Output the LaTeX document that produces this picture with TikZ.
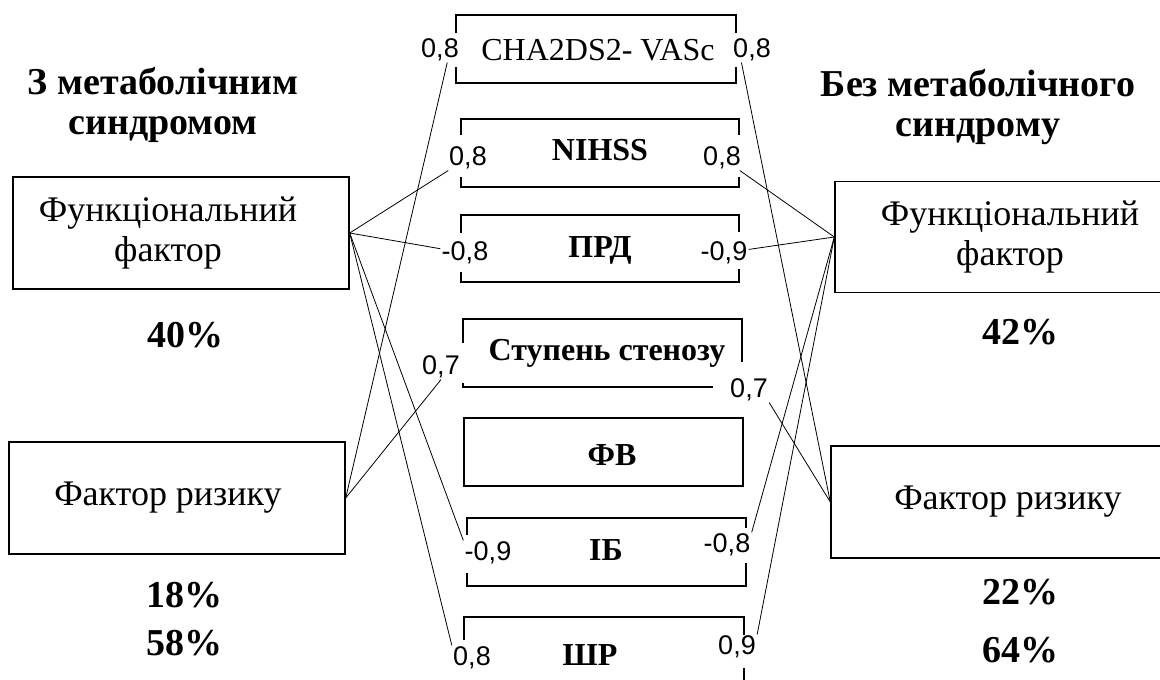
\documentclass[tikz,border=0pt]{standalone}
\usepackage{fontspec}
\setmainfont{Liberation Serif}
\newfontfamily\numfont{Liberation Sans}

\tikzset{
  factor/.style={draw,line width=1.4pt,minimum width=336pt,minimum height=112pt,align=center,font=\fontsize{36}{40}\selectfont},
  head/.style={align=center,font=\bfseries\fontsize{38}{40}\selectfont},
  share/.style={font=\bfseries\fontsize{38}{38}\selectfont},
  param/.style={font=\fontsize{32}{32}\selectfont},
  bparam/.style={font=\bfseries\fontsize{32}{32}\selectfont},
  coef/.style={inner sep=1pt,font=\numfont\fontsize{27}{27}\selectfont}
}

\begin{document}
\begin{tikzpicture}[x=1pt,y=-1pt,line width=0.8pt]
\useasboundingbox[fill=white] (0,0) rectangle (1160,680);

% groups
\node[head] (lhead) at (163,105) {З метаболічним\\синдромом};
\node[head] (rhead) at (978,107) {Без метаболічного\\синдрому};

\node[factor] (lfun) at (181,233) {Функціональний\hspace*{26pt}\\фактор\hspace*{26pt}};
\node[factor] (lrisk) at (177,498) {Фактор ризику\hspace*{18pt}};
\node[factor,minimum width=350pt,minimum height=111pt] (rfun) at (1010,237) {Функціональний\\фактор};
\node[factor,minimum width=354pt] (rrisk) at (1008,502) {Фактор ризику};

\node[share] (lfunpct) at (185,335) {40\%};
\node[share] (lriskpct) at (184,595) {18\%};
\node[share] (ltotal) at (184,643) {58\%};
\node[share] (rfunpct) at (1020,332) {42\%};
\node[share] (rriskpct) at (1020,592) {22\%};
\node[share] (rtotal) at (1020,650) {64\%};

% parameters
\node[param] (cha) at (598,50) {CHA2DS2- VASc};
\node[bparam] (nihss) at (600,150) {NIHSS};
\node[bparam] (prd) at (600,250) {ПРД};
\node[bparam] (sten) at (607,353) {Ступень стенозу};
\node[bparam] (fv) at (612,455) {ФВ};
\node[bparam] (ib) at (606,550) {ІБ};
\node[bparam] (shr) at (590,655) {ШР};

\begin{scope}[line width=1.4pt]
\draw (456,33) |- (736,15) -- (736,33);
\draw (456,67) |- (736,83) -- (736,67);
\draw (461,135) |- (739,119) -- (739,135);
\draw (461,177) |- (739,187) -- (739,177);
\draw (461,233) |- (739,215) -- (739,232);
\draw (461,272) |- (739,282) -- (739,269);
\draw (463,343) |- (742,319) -- (742,362);
\draw (463,383) |- (713,387);
\draw (464,418) rectangle (743,486);
\draw (467,535) |- (746,518) -- (746,528);
\draw (467,573) |- (746,586) -- (746,563);
\draw (464,640) |- (744,617) -- (744,635);
\draw (744,668) -- (744,690);
\end{scope}

% coefficients
\node[coef] (chaL) at (440,50) {0,8};
\node[coef] (chaR) at (752,50) {0,8};
\node[coef] (nihL) at (468,158) {0,8};
\node[coef] (nihR) at (722,158) {0,8};
\node[coef] (prdL) at (465,253) {-0,8};
\node[coef] (prdR) at (724,253) {-0,9};
\node[coef] (stenL) at (441,367) {0,7};
\node[coef] (stenR) at (749,390) {0,7};
\node[coef] (ibL) at (488,553) {-0,9};
\node[coef] (ibR) at (727,545) {-0,8};
\node[coef] (shrL) at (472,658) {0,8};
\node[coef] (shrR) at (737,647) {0,9};

\foreach \c in {nihL,prdL,ibL.north west,shrL.north west} \draw (lfun.east) -- (\c);
\foreach \c in {chaL.-60,stenL.south} \draw (lrisk.east) -- (\c);
\foreach \c in {nihR,prdR,ibR.north east,shrR.north east} \draw (rfun.west) -- (\c);
\foreach \c in {chaR.-130,stenR.south east} \draw (rrisk.west) -- (\c);
\end{tikzpicture}
\end{document}
